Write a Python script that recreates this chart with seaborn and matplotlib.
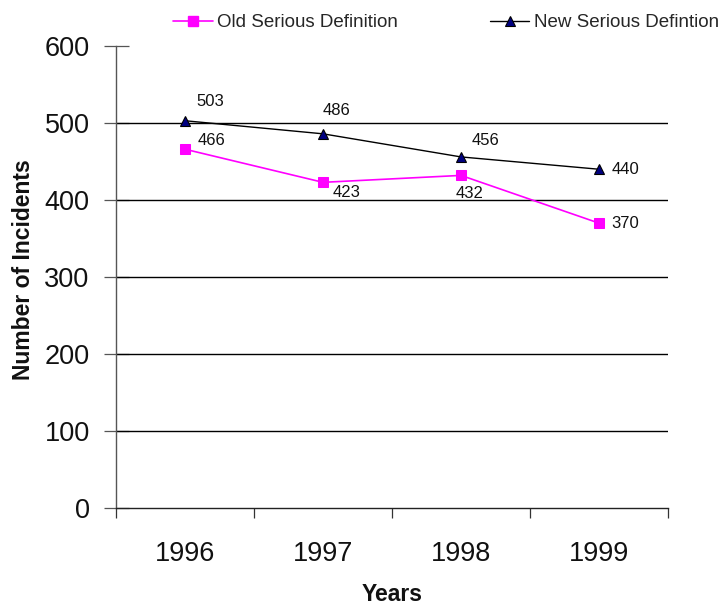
import matplotlib
matplotlib.use("Agg")
import matplotlib.pyplot as plt
from matplotlib.lines import Line2D
from matplotlib.ticker import FixedLocator
import seaborn as sns
import pandas as pd

years = [1996, 1997, 1998, 1999]
old_serious = [466, 423, 432, 370]
new_serious = [503, 486, 456, 440]
series_names = ["Old Serious Definition", "New Serious Defintion"]
y_ticks = [0, 100, 200, 300, 400, 500, 600]

# label offsets (points) for each value annotation
old_offsets = [(9.0, 6.5), (7.0, -7.2), (-4.0, -13.0), (9.0, 0.0)]
new_offsets = [(8.2, 13.5), (-0.5, 16.8), (7.5, 11.5), (9.0, 0.0)]

sns.set_style("white")
plt.rcParams["font.family"] = ["Liberation Sans", "DejaVu Sans"]

old_df = pd.DataFrame({"Year": years, "Incidents": old_serious})
new_df = pd.DataFrame({"Year": years, "Incidents": new_serious})

fig = plt.figure(figsize=(7.22, 6.14), dpi=100)
ax = fig.add_axes([0.1607, 0.1726, 0.7645, 0.7524])

old_color = "#FF00FF"
new_line = "#000000"
new_marker = "#000080"

sns.lineplot(data=old_df, x="Year", y="Incidents", ax=ax, color=old_color,
             linewidth=1.2, marker="s", markersize=7.5,
             markerfacecolor=old_color, markeredgecolor=old_color, zorder=3)
sns.lineplot(data=new_df, x="Year", y="Incidents", ax=ax, color=new_line,
             linewidth=1.0, marker="^", markersize=7.5,
             markerfacecolor=new_marker, markeredgecolor="#000000",
             markeredgewidth=0.8, zorder=4)

for x, v, off in zip(years, old_serious, old_offsets):
    ax.annotate(str(v), (x, v), xytext=off, textcoords="offset points",
                ha="left", va="center", fontsize=12, color="#111111")
for x, v, off in zip(years, new_serious, new_offsets):
    ax.annotate(str(v), (x, v), xytext=off, textcoords="offset points",
                ha="left", va="center", fontsize=12, color="#111111")

ax.set_xlim(years[0] - 0.5, years[-1] + 0.5)
ax.set_ylim(y_ticks[0], y_ticks[-1])

ax.set_yticks(y_ticks)
ax.set_yticklabels([str(t) for t in y_ticks])
ax.set_xticks(years)
ax.set_xticklabels([str(y) for y in years])
ax.xaxis.set_minor_locator(FixedLocator([y - 0.5 for y in years] + [years[-1] + 0.5]))

ax.tick_params(axis="y", which="major", left=True, direction="inout", length=18,
               width=0.9, color="#555555", labelsize=19.5, pad=10,
               labelcolor="#111111")
ax.tick_params(axis="x", which="major", bottom=False, length=0, labelsize=19.5,
               pad=24, labelcolor="#111111")
ax.tick_params(axis="x", which="minor", bottom=True, direction="out", length=7.5,
               width=0.9, color="#333333")

# horizontal gridlines between the end values
ax.grid(False)
for t in y_ticks[1:-1]:
    ax.axhline(t, color="#000000", linewidth=1.0, zorder=1)

for side in ("top", "right"):
    ax.spines[side].set_visible(False)
ax.spines["left"].set_color("#555555")
ax.spines["left"].set_linewidth(1.0)
ax.spines["bottom"].set_color("#222222")
ax.spines["bottom"].set_linewidth(1.0)

ax.set_ylabel("Number of Incidents", fontsize=16.5, fontweight="bold", color="#111111")
ax.yaxis.set_label_coords(-0.168, 0.517)
ax.set_xlabel("Years", fontsize=16.5, fontweight="bold", color="#111111")
ax.xaxis.set_label_coords(0.5, -0.188)
ax.xaxis.label.set_va("center")
ax.yaxis.label.set_va("center")

handles = [
    Line2D([], [], color=old_color, linewidth=1.2, marker="s", markersize=7,
           markerfacecolor=old_color, markeredgecolor=old_color),
    Line2D([], [], color=new_line, linewidth=1.0, marker="^", markersize=6.5,
           markerfacecolor=new_marker, markeredgecolor="#000000", markeredgewidth=0.8),
]
fig.legend(handles, series_names, loc="center left", bbox_to_anchor=(0.24, 0.963),
           ncol=2, frameon=False, fontsize=13.5, handlelength=2.1, handletextpad=0.25,
           columnspacing=4.9, borderpad=0, borderaxespad=0)

fig.savefig("out.png", dpi=100, facecolor="white")
